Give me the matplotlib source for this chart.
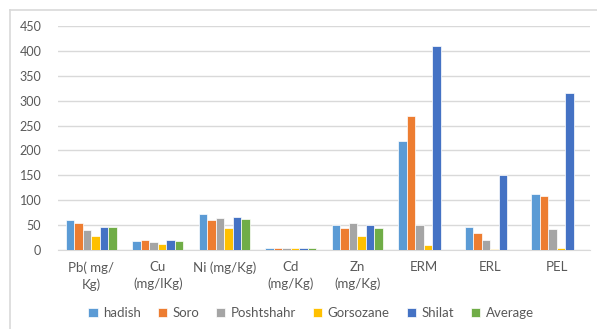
import numpy as np
import matplotlib.pyplot as plt
from matplotlib.lines import Line2D

categories = ['Pb( mg/\nKg)', 'Cu\n(mg/lKg)', 'Ni (mg/Kg)', 'Cd\n(mg/Kg)',
              'Zn\n(mg/Kg)', 'ERM', 'ERL', 'PEL']
series_names = ['hadish', 'Soro', 'Poshtshahr', 'Gorsozane', 'Shilat', 'Average']
hadish = [60, 18, 73, 4, 50, 218, 46.7, 112]
soro = [55, 20, 61, 4, 44, 270, 34, 108]
poshtshahr = [41, 16, 64, 4, 55, 51, 20.9, 42.8]
gorsozane = [28, 13, 45, 4, 28, 9.6, 1.2, 4.2]
shilat = [47, 20, 67, 4, 50, 410, 150, 315]
average = [47, 18, 63, 4, 45, np.nan, np.nan, np.nan]
colors = ['#5B9BD5', '#ED7D31', '#A5A5A5', '#FFC000', '#4472C4', '#70AD47']
yticks = [0, 50, 100, 150, 200, 250, 300, 350, 400, 450]

plt.rcParams['font.family'] = ['Lato', 'DejaVu Sans']

fig = plt.figure(figsize=(5.97, 3.29), dpi=100)
ax = fig.add_axes([58 / 597, 79 / 329, 532 / 597, 224 / 329])

data = [hadish, soro, poshtshahr, gorsozane, shilat, average]
x = np.arange(len(categories))
w = 0.128
for i, (vals, name, c) in enumerate(zip(data, series_names, colors)):
    ax.bar(x + (i - 2.5) * w, vals, width=w, color=c, edgecolor='white',
           linewidth=0.5, label=name, zorder=3)

ax.set_xlim(-0.5, len(categories) - 0.5)
ax.set_ylim(0, 450)
ax.set_yticks(yticks)
ax.set_xticks(x)
ax.set_xticklabels(categories, fontsize=9.5, color='#595959', linespacing=1.45)
ax.tick_params(axis='y', labelsize=9, labelcolor='#595959', length=0, pad=12)
ax.tick_params(axis='x', length=0, pad=8)
ax.grid(axis='y', color='#D9D9D9', linewidth=1, zorder=0)
for s in ['top', 'right', 'left']:
    ax.spines[s].set_visible(False)
ax.spines['bottom'].set_color('#D9D9D9')
ax.spines['bottom'].set_zorder(1)

# chart frame
fig.add_artist(Line2D([10 / 597, 10 / 597], [0, 1 - 10 / 329], color='#D9D9D9',
                      linewidth=1.2, transform=fig.transFigure))
fig.add_artist(Line2D([10 / 597, 1], [1 - 10 / 329, 1 - 10 / 329], color='#D9D9D9',
                      linewidth=1.2, transform=fig.transFigure))

fig.legend(loc='center', bbox_to_anchor=(311 / 597, 1 - 313 / 329), ncol=6,
           frameon=False, fontsize=9.5, handlelength=0.7, handleheight=0.7,
           handletextpad=0.4, columnspacing=1.3, labelcolor='#595959')

fig.savefig('out.png', dpi=100, facecolor='white')
